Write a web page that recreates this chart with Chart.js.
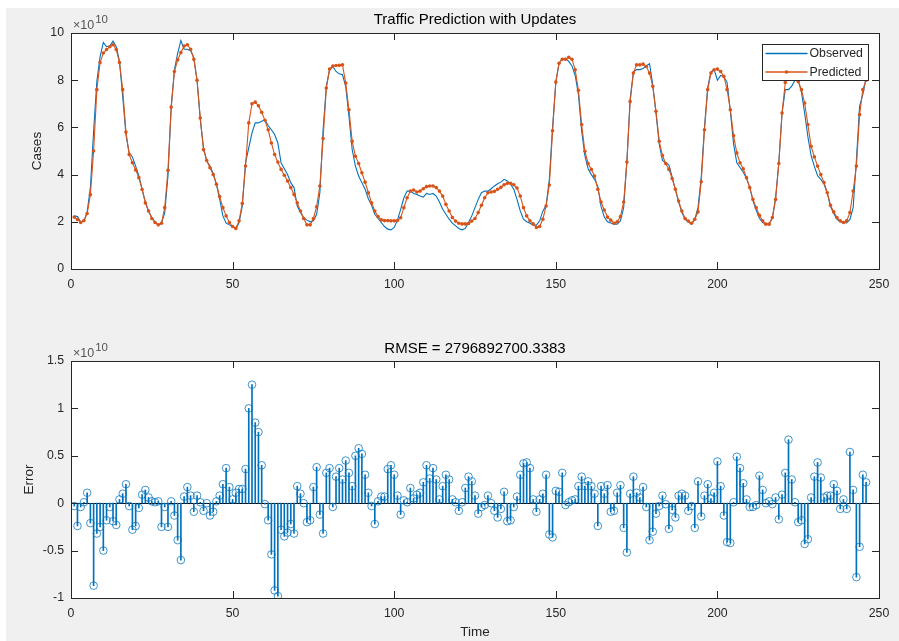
<!DOCTYPE html>
<html>
<head>
<meta charset="utf-8">
<title>Traffic Prediction with Updates</title>
<script src="https://cdn.jsdelivr.net/npm/chart.js@4.4.1/dist/chart.umd.min.js"></script>
<style>
  html, body { margin: 0; padding: 0; background: #ffffff; }
  #frame { position: absolute; left: 6px; top: 8px; width: 893px; height: 633px; background: #f0f0f0; }
  canvas { position: absolute; left: 0; }
  #trafficChart { top: 0; }
  #errorChart { top: 300px; }
</style>
</head>
<body>
<div id="frame"></div>
<canvas id="trafficChart" width="899" height="300"></canvas>
<canvas id="errorChart" width="899" height="341"></canvas>
<script>
const FONT = '"Liberation Sans", Arial, sans-serif';
const TEXT = '#262626';
const BLUE = '#0072BD';
const ORANGE = '#D95319';

const mainTitle = 'Traffic Prediction with Updates';
const errorTitle = 'RMSE = 2796892700.3383';
const seriesNames = ['Observed', 'Predicted'];
const xTickValues = [0, 50, 100, 150, 200, 250];
const casesTickValues = [0, 2, 4, 6, 8, 10];
const errorTickValues = [-1, -0.5, 0, 0.5, 1, 1.5];
const errorTickLabels = ['-1', '-0.5', '0', '0.5', '1', '1.5'];
const exponentLabel = '10';

// values are in units of 1e10, one per time step (1..246)
const observed = [
  2.25, 2.22, 2.0, 2.03, 2.42, 3.45, 5.85, 7.95, 9.0, 9.6,
  9.42, 9.45, 9.66, 9.42, 8.8, 7.3, 5.7, 4.92, 4.75, 4.36,
  3.94, 3.38, 2.84, 2.46, 2.17, 2.0, 1.86, 1.94, 2.39, 3.94,
  6.86, 8.44, 9.14, 9.68, 9.31, 9.31, 9.25, 8.97, 8.0, 6.33,
  5.13, 4.57, 4.36, 4.05, 3.59, 2.95, 2.25, 1.94, 1.87, 1.8,
  1.69, 1.97, 2.67, 4.5, 5.13, 5.77, 6.19, 6.19, 6.26, 6.33,
  6.08, 5.9, 5.7, 5.34, 4.5, 4.25, 4.0, 3.66, 3.45, 2.67,
  2.39, 2.17, 2.07, 2.0, 2.04, 2.32, 3.23, 5.9, 7.74, 8.44,
  8.58, 8.37, 8.27, 8.23, 7.74, 6.47, 5.06, 4.36, 3.94, 3.66,
  3.38, 2.98, 2.7, 2.32, 2.14, 1.97, 1.8, 1.69, 1.66, 1.76,
  2.07, 2.53, 3.02, 3.3, 3.3, 3.2, 3.16, 3.09, 3.05, 3.2,
  3.16, 3.2, 3.09, 2.84, 2.53, 2.32, 2.11, 1.94, 1.83, 1.72,
  1.66, 1.72, 1.97, 2.25, 2.6, 2.95, 3.23, 3.3, 3.3, 3.4,
  3.52, 3.61, 3.68, 3.8, 3.73, 3.59, 3.38, 2.95, 2.46, 2.11,
  2.0, 1.94, 1.86, 1.86, 2.04, 2.45, 2.7, 3.8, 6.0, 7.9,
  8.72, 8.89, 8.93, 8.8, 8.6, 8.2, 7.4, 5.85, 4.8, 4.25,
  4.0, 3.8, 3.5, 2.65, 2.2, 2.0, 1.95, 1.9, 1.9, 2.05,
  2.6, 4.6, 7.2, 8.35, 8.45, 8.45, 8.5, 8.6, 8.7, 7.8,
  6.6, 5.3, 4.6, 4.5, 4.4, 3.9, 3.35, 2.85, 2.4, 2.1,
  2.0, 1.9, 2.1, 2.6, 3.9, 6.0, 7.7, 8.35, 8.45, 8.0,
  8.2, 8.15, 7.9, 6.7, 5.3, 4.5, 4.3, 4.1, 3.85, 3.45,
  2.9, 2.5, 2.15, 1.97, 1.9, 1.9, 2.15, 3.0, 4.5, 6.6,
  7.6, 7.6, 7.75, 8.0, 8.0, 7.5, 6.6, 5.6, 4.8, 4.35,
  3.95, 3.8, 3.6, 3.2, 2.65, 2.35, 2.1, 2.0, 1.97, 1.95,
  2.1, 2.6, 4.6, 6.9, 7.4, 8.1
];

const predicted = [
  2.2, 2.1, 1.97, 2.05, 2.35, 3.15, 5.0, 7.6, 8.75, 9.15,
  9.3, 9.42, 9.5, 9.3, 8.75, 7.6, 5.8, 4.85, 4.5, 4.2,
  3.87, 3.37, 2.8, 2.46, 2.14, 1.97, 1.87, 1.94, 2.6, 4.18,
  6.86, 8.37, 8.86, 9.17, 9.45, 9.5, 9.31, 8.89, 8.0, 6.4,
  5.06, 4.6, 4.29, 4.0, 3.59, 3.07, 2.6, 2.25, 1.97, 1.8,
  1.72, 2.04, 2.78, 4.36, 6.19, 7.0, 7.07, 6.92, 6.64, 6.3,
  5.9, 5.34, 4.85, 4.53, 4.22, 3.97, 3.73, 3.45, 3.16, 2.81,
  2.46, 2.14, 1.87, 1.87, 2.14, 2.64, 3.52, 5.53, 7.67, 8.47,
  8.6, 8.62, 8.63, 8.65, 7.88, 6.75, 5.41, 4.78, 4.47, 4.08,
  3.68, 3.23, 2.81, 2.46, 2.22, 2.08, 2.05, 2.05, 2.04, 2.04,
  2.05, 2.17, 2.6, 3.02, 3.3, 3.35, 3.26, 3.3, 3.4, 3.49,
  3.52, 3.52, 3.45, 3.3, 3.09, 2.74, 2.46, 2.18, 2.03, 1.94,
  1.91, 1.91, 1.93, 2.03, 2.14, 2.39, 2.7, 3.02, 3.23, 3.26,
  3.29, 3.38, 3.46, 3.57, 3.63, 3.63, 3.57, 3.43, 3.09, 2.6,
  2.25, 2.04, 1.91, 1.76, 1.8, 2.11, 2.67, 3.56, 5.86, 7.92,
  8.72, 8.89, 8.89, 8.97, 8.89, 8.44, 7.57, 6.12, 4.99, 4.47,
  4.22, 3.94, 3.38, 2.84, 2.5, 2.2, 2.07, 1.94, 2.0, 2.22,
  2.84, 4.53, 7.1, 8.3, 8.65, 8.65, 8.68, 8.58, 8.3, 7.74,
  6.68, 5.41, 4.81, 4.47, 4.22, 3.83, 3.38, 2.88, 2.46, 2.14,
  2.03, 1.94, 2.11, 2.42, 3.7, 5.9, 7.6, 8.3, 8.44, 8.47,
  8.37, 8.16, 7.6, 6.75, 5.65, 4.92, 4.5, 4.25, 3.87, 3.45,
  2.95, 2.6, 2.28, 2.04, 1.9, 1.9, 2.18, 2.95, 4.47, 6.61,
  7.9, 8.3, 8.3, 8.1, 7.95, 7.6, 7.03, 6.12, 5.2, 4.75,
  4.36, 4.0, 3.66, 3.23, 2.7, 2.42, 2.18, 2.04, 1.97, 2.04,
  2.39, 3.3, 4.36, 6.54, 7.6, 8.0
];

const errors = [
  -0.03, -0.24, -0.04, 0.01, 0.11, -0.21, -0.87, -0.32, -0.25, -0.50,
  -0.18, -0.04, -0.19, -0.23, 0.04, 0.10, 0.20, -0.03, -0.28, -0.24,
  -0.05, 0.09, 0.14, 0.06, 0.02, 0.01, 0.02, -0.25, -0.04, -0.25,
  0.02, -0.13, -0.39, -0.60, 0.07, 0.17, 0.08, -0.09, 0.08, 0.01,
  -0.08, 0.00, -0.13, -0.09, 0.02, 0.08, 0.20, 0.37, 0.17, 0.04,
  0.11, 0.15, 0.15, 0.36, 1.00, 1.25, 0.85, 0.75, 0.40, -0.01,
  -0.18, -0.54, -0.92, -0.98, -0.28, -0.35, -0.31, -0.22, -0.32, 0.18,
  0.10, 0.00, -0.20, -0.18, 0.17, 0.38, -0.12, -0.32, 0.32, 0.37,
  -0.04, 0.28, 0.37, 0.25, 0.45, 0.32, 0.18, 0.50, 0.58, 0.52,
  0.30, 0.11, -0.03, -0.22, 0.02, 0.07, 0.07, 0.36, 0.40, 0.30,
  0.08, -0.12, 0.03, 0.01, 0.16, 0.05, 0.09, 0.11, 0.22, 0.40,
  0.26, 0.37, 0.25, 0.04, 0.18, 0.30, 0.25, 0.04, 0.01, -0.08,
  0.01, 0.16, 0.28, 0.23, 0.08, -0.11, -0.04, -0.02, 0.08, 0.00,
  -0.08, -0.15, -0.06, 0.12, -0.19, -0.18, -0.04, 0.07, 0.30, 0.42,
  0.43, 0.37, 0.04, -0.09, 0.04, 0.10, 0.30, -0.33, -0.36, 0.13,
  0.12, 0.32, -0.02, 0.01, 0.03, 0.04, 0.18, 0.28, 0.18, 0.23,
  0.18, 0.10, -0.24, 0.18, 0.10, 0.19, -0.09, -0.08, 0.11, 0.19,
  -0.26, -0.52, 0.10, 0.28, 0.11, 0.06, 0.17, -0.04, -0.39, -0.30,
  -0.11, -0.03, 0.08, -0.01, -0.27, -0.07, -0.15, 0.08, 0.10, 0.08,
  -0.08, -0.03, -0.26, 0.23, -0.14, 0.08, 0.20, 0.05, 0.11, 0.44,
  0.18, -0.13, -0.41, -0.42, 0.01, 0.49, 0.37, 0.21, 0.04, -0.04,
  -0.04, -0.02, 0.29, 0.14, 0.00, 0.02, -0.01, 0.06, -0.17, 0.09,
  0.32, 0.67, 0.25, 0.01, -0.20, -0.18, -0.43, -0.38, 0.06, 0.28,
  0.43, 0.27, 0.06, 0.08, 0.08, 0.20, 0.13, -0.06, 0.04, -0.06,
  0.54, 0.14, -0.78, -0.46, 0.30, 0.22
];

const toPoints = arr => arr.map((v, i) => ({ x: i + 1, y: v }));

Chart.defaults.font.family = FONT;
Chart.defaults.font.size = 12.3;
Chart.defaults.color = TEXT;

// matlab-ish box, inward ticks, centred title, exponent label and an inset legend
const matlabAxes = {
  id: 'matlabAxes',
  beforeDraw(chart) {
    const { ctx, chartArea: a } = chart;
    ctx.save();
    ctx.fillStyle = '#ffffff';
    ctx.fillRect(a.left, a.top, a.right - a.left, a.bottom - a.top);
    ctx.restore();
  },
  beforeDatasetsDraw(chart, args, opts) {
    if (!opts.baseline) return;
    const { ctx, chartArea: a, scales: { y } } = chart;
    const py = Math.round(y.getPixelForValue(0)) + 0.5;
    ctx.save();
    ctx.strokeStyle = '#000000';
    ctx.lineWidth = 1;
    ctx.beginPath();
    ctx.moveTo(a.left, py);
    ctx.lineTo(a.right, py);
    ctx.stroke();
    ctx.restore();
  },
  afterDraw(chart, args, opts) {
    const { ctx, chartArea: a, scales: { x, y } } = chart;
    const tl = 7;
    ctx.save();
    ctx.strokeStyle = '#262626';
    ctx.lineWidth = 1;
    ctx.beginPath();
    x.ticks.forEach(t => {
      const px = Math.round(x.getPixelForValue(t.value)) + 0.5;
      ctx.moveTo(px, a.bottom); ctx.lineTo(px, a.bottom - tl);
      ctx.moveTo(px, a.top); ctx.lineTo(px, a.top + tl);
    });
    y.ticks.forEach(t => {
      const py = Math.round(y.getPixelForValue(t.value)) + 0.5;
      ctx.moveTo(a.left, py); ctx.lineTo(a.left + tl, py);
      ctx.moveTo(a.right, py); ctx.lineTo(a.right - tl, py);
    });
    ctx.stroke();
    ctx.strokeRect(Math.round(a.left) + 0.5, Math.round(a.top) + 0.5,
      Math.round(a.right - a.left), Math.round(a.bottom - a.top));

    // title centred over the axes
    ctx.fillStyle = '#000000';
    ctx.font = '15px ' + FONT;
    ctx.textAlign = 'center';
    ctx.textBaseline = 'middle';
    ctx.fillText(opts.title, (a.left + a.right) / 2, opts.titleY);

    // x10^10 exponent
    ctx.fillStyle = '#555555';
    ctx.textAlign = 'left';
    ctx.textBaseline = 'alphabetic';
    ctx.font = '12.5px ' + FONT;
    const base = '\u00d710';
    ctx.fillText(base, a.left + 2, a.top - 4);
    const w = ctx.measureText(base).width;
    ctx.font = '11.5px ' + FONT;
    ctx.fillText(exponentLabel, a.left + 3 + w, a.top - 10);

    if (opts.legend) {
      const ds = chart.data.datasets;
      const bx = Math.round(a.right) - 117 + 0.5;
      const by = Math.round(a.top) + 11 + 0.5;
      const bw = 106, bh = 36;
      ctx.fillStyle = '#ffffff';
      ctx.fillRect(bx, by, bw, bh);
      ctx.strokeStyle = '#262626';
      ctx.lineWidth = 1;
      ctx.strokeRect(bx, by, bw, bh);
      ctx.font = '12.3px ' + FONT;
      ctx.textBaseline = 'middle';
      [1, 0].forEach((di, row) => {
        const d = ds[di];
        const ly = by + 9 + row * 18.5;
        ctx.strokeStyle = d.borderColor;
        ctx.lineWidth = 1.3;
        ctx.beginPath();
        ctx.moveTo(bx + 3, ly);
        ctx.lineTo(bx + 45, ly);
        ctx.stroke();
        if (d.pointRadius > 0) {
          ctx.fillStyle = d.borderColor;
          ctx.beginPath();
          ctx.arc(bx + 24, ly, d.pointRadius, 0, Math.PI * 2);
          ctx.fill();
        }
        ctx.fillStyle = TEXT;
        ctx.fillText(d.label, bx + 47, ly + 0.5);
      });
    }
    ctx.restore();
  }
};

const xScale = (height, withTitle) => ({
  type: 'linear',
  min: 0,
  max: 250,
  offset: false,
  grid: { display: false, drawTicks: false },
  border: { display: false },
  ticks: { padding: 8, maxRotation: 0 },
  afterBuildTicks: s => { s.ticks = xTickValues.map(v => ({ value: v })); },
  afterFit: s => { s.height = height; },
  title: withTitle
    ? { display: true, text: 'Time', font: { size: 13.5 }, padding: { top: 0, bottom: 1 }, color: TEXT }
    : { display: false }
});

new Chart(document.getElementById('trafficChart'), {
  type: 'line',
  data: {
    datasets: [
      {
        label: seriesNames[1],
        data: toPoints(predicted),
        borderColor: ORANGE,
        backgroundColor: ORANGE,
        borderWidth: 1.1,
        pointRadius: 1.8,
        pointBorderWidth: 0,
        pointBackgroundColor: ORANGE,
        tension: 0,
        order: 1
      },
      {
        label: seriesNames[0],
        data: toPoints(observed),
        borderColor: BLUE,
        backgroundColor: BLUE,
        borderWidth: 1.1,
        pointRadius: 0,
        tension: 0,
        order: 2
      }
    ]
  },
  options: {
    responsive: false,
    animation: false,
    devicePixelRatio: 1,
    events: [],
    layout: { padding: { left: 0, right: 20, top: 33, bottom: 0 } },
    scales: {
      x: xScale(31, false),
      y: {
        min: 0,
        max: 10,
        grid: { display: false, drawTicks: false },
        border: { display: false },
        ticks: { padding: 7 },
        afterBuildTicks: s => { s.ticks = casesTickValues.map(v => ({ value: v })); },
        afterFit: s => { s.width = 71; },
        title: { display: true, text: 'Cases', font: { size: 13.5 }, padding: { top: 29, bottom: 0 }, color: TEXT }
      }
    },
    plugins: {
      legend: { display: false },
      tooltip: { enabled: false },
      title: { display: false },
      matlabAxes: { legend: true, baseline: false, title: mainTitle, titleY: 20 }
    }
  },
  plugins: [matlabAxes]
});

new Chart(document.getElementById('errorChart'), {
  type: 'bar',
  data: {
    datasets: [
      {
        type: 'scatter',
        label: 'Error',
        data: toPoints(errors),
        pointRadius: 3.8,
        pointBorderWidth: 1,
        pointBorderColor: 'rgba(0,114,189,0.75)',
        pointBackgroundColor: 'rgba(0,0,0,0)',
        showLine: false,
        order: 1
      },
      {
        type: 'bar',
        label: 'Stem',
        data: toPoints(errors),
        backgroundColor: BLUE,
        borderWidth: 0,
        barThickness: 1,
        order: 2
      }
    ]
  },
  options: {
    responsive: false,
    animation: false,
    devicePixelRatio: 1,
    events: [],
    layout: { padding: { left: 0, right: 20, top: 61, bottom: 0 } },
    scales: {
      x: xScale(43, true),
      y: {
        min: -1,
        max: 1.5,
        grid: { display: false, drawTicks: false },
        border: { display: false },
        ticks: { padding: 7, callback: (v, i) => errorTickLabels[i] },
        afterBuildTicks: s => { s.ticks = errorTickValues.map(v => ({ value: v })); },
        afterFit: s => { s.width = 71; },
        title: { display: true, text: 'Error', font: { size: 13.5 }, padding: { top: 21, bottom: 0 }, color: TEXT }
      }
    },
    plugins: {
      legend: { display: false },
      tooltip: { enabled: false },
      title: { display: false },
      matlabAxes: { legend: false, baseline: true, title: errorTitle, titleY: 49 }
    }
  },
  plugins: [matlabAxes]
});
</script>
</body>
</html>
